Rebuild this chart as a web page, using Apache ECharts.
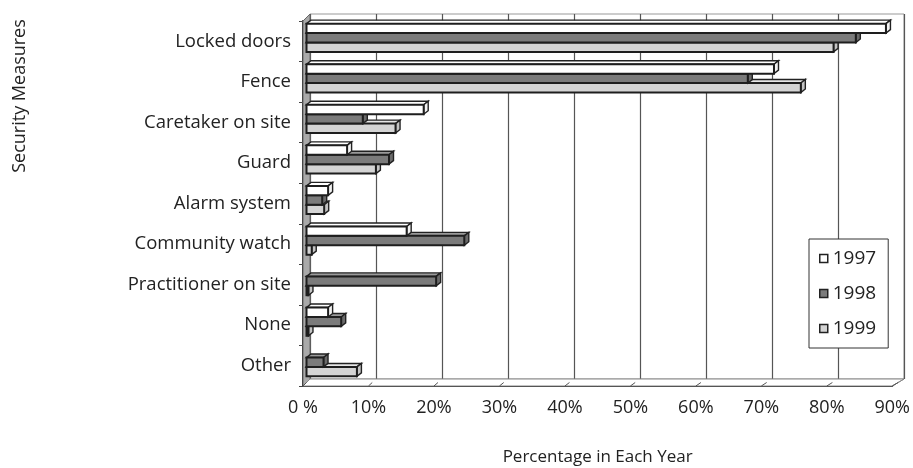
<!DOCTYPE html>
<html>
<head>
<meta charset="utf-8">
<script src="https://cdn.jsdelivr.net/npm/echarts@6/dist/echarts.min.js"></script>
<style>
html,body{margin:0;padding:0;background:#fff;}
#chart{width:913px;height:468px;}
</style>
</head>
<body>
<div id="chart"></div>
<script>
const categories = ['Locked doors', 'Fence', 'Caretaker on site', 'Guard', 'Alarm system', 'Community watch', 'Practitioner on site', 'None', 'Other'];
const years = ['1997', '1998', '1999'];
const v1997 = [88.5, 71.4, 17.9, 6.2, 3.3, 15.3, 0, 3.3, 0];
const v1998 = [83.9, 67.4, 8.6, 12.6, 2.4, 24.1, 19.8, 5.3, 2.6];
const v1999 = [80.5, 75.5, 13.6, 10.6, 2.7, 0.8, 0.3, 0.3, 7.7];
const xTicks = [0, 10, 20, 30, 40, 50, 60, 70, 80, 90];

const FONT = 'Open Sans';
const seriesValues = [v1997, v1998, v1999];
const colors = ['#ffffff', '#7b7b7b', '#d4d4d4'];
const topColors = ['#ffffff', '#9a9a9a', '#e6e6e6'];
const sideColors = ['#f2f2f2', '#6a6a6a', '#c4c4c4'];

function makeRender(sIdx) {
  return function (params, api) {
    const val = api.value(0);
    const cat = api.value(1);
    if (!(val > 0)) return null;
    const p0 = api.coord([0, cat]);
    const p1 = api.coord([val, cat]);
    const band = api.size([0, 1])[1];
    const h = band * 0.232;
    const ox = 3.5, oy = -3.5;
    const dx = 4.5, dy = -3.5;
    const x0 = p0[0] + ox, x1 = p1[0] + ox;
    const y = p0[1] - 1.5 * h + sIdx * h + oy;
    return {
      type: 'group',
      children: [
        { type: 'polygon', shape: { points: [[x0, y], [x0 + dx, y + dy], [x1 + dx, y + dy], [x1, y]] },
          style: { fill: topColors[sIdx], stroke: '#222', lineWidth: 1.4 } },
        { type: 'polygon', shape: { points: [[x1, y], [x1 + dx, y + dy], [x1 + dx, y + h + dy], [x1, y + h]] },
          style: { fill: sideColors[sIdx], stroke: '#222', lineWidth: 1.4 } },
        { type: 'rect', shape: { x: x0, y: y, width: x1 - x0, height: h },
          style: { fill: colors[sIdx], stroke: '#1e1e1e', lineWidth: 2 } }
      ]
    };
  };
}

const chart = echarts.init(document.getElementById('chart'), null, { renderer: 'canvas' });

const option = {
  animation: false,
  backgroundColor: '#fff',
  textStyle: { fontFamily: FONT, color: '#222' },
  grid: [
    { left: 303, right: 16, top: 21, bottom: 82 },
    { left: 310, right: 9, top: 14, bottom: 89, show: true, borderColor: '#999', borderWidth: 1, backgroundColor: '#fff', z: 0 }
  ],
  xAxis: [
    { type: 'value', gridIndex: 0, min: 0, max: 90, interval: 10,
      axisLabel: { fontSize: 18, color: '#222', margin: 13, fontFamily: FONT,
        formatter: function (v) { return v === 0 ? '0 %' : v + '%'; } },
      axisLine: { show: true, lineStyle: { color: '#222', width: 2 } },
      axisTick: { show: false }, splitLine: { show: false } },
    { type: 'value', gridIndex: 1, min: 0, max: 90, interval: 10,
      axisLabel: { show: false }, axisLine: { show: false }, axisTick: { show: false },
      splitLine: { show: true, lineStyle: { color: '#555', width: 1.2 } } }
  ],
  yAxis: [
    { type: 'category', gridIndex: 0, inverse: true, data: categories,
      axisLabel: { fontSize: 18.5, color: '#222', margin: 12, fontFamily: FONT },
      axisLine: { show: true, lineStyle: { color: '#222', width: 2 } },
      axisTick: { show: true, length: 4, lineStyle: { color: '#444' } } },
    { type: 'category', gridIndex: 1, inverse: true, data: categories, show: false }
  ],
  legend: {
    data: years, orient: 'vertical', left: 809, top: 239,
    backgroundColor: '#fff', borderColor: '#333', borderWidth: 1,
    padding: [10, 12, 10, 10], itemGap: 16, itemWidth: 8, itemHeight: 8,
    icon: 'rect',
    itemStyle: { borderColor: '#222', borderWidth: 1.5 },
    textStyle: { fontSize: 19, color: '#222', fontFamily: FONT }
  },
  series: years.map(function (y, i) {
    return {
      type: 'custom', name: y, xAxisIndex: 0, yAxisIndex: 0,
      z: 10 - i,
      itemStyle: { color: colors[i], borderColor: '#222', borderWidth: 1.5 },
      renderItem: makeRender(i),
      encode: { x: 0, y: 1 },
      data: seriesValues[i].map(function (v, k) { return [v, k]; })
    };
  })
};
chart.setOption(option);

// 3D walls derived from the axes' pixel positions
const fl = chart.convertToPixel({ xAxisIndex: 0 }, 0);
const fr = chart.convertToPixel({ xAxisIndex: 0 }, 90);
const bl = chart.convertToPixel({ xAxisIndex: 1 }, 0);
const br = chart.convertToPixel({ xAxisIndex: 1 }, 90);
const fBot = 468 - 82, bTop = 14, bBot = 468 - 89, fTop = 21;
const floorTicks = xTicks.map(function (t) {
  const xf = chart.convertToPixel({ xAxisIndex: 0 }, t);
  const xb = chart.convertToPixel({ xAxisIndex: 1 }, t);
  return { type: 'line', z: 1, shape: { x1: xf, y1: fBot, x2: xf + (xb - xf) * 0.5, y2: fBot - (fBot - bBot) * 0.5 },
    style: { stroke: '#555', lineWidth: 1 } };
});
chart.setOption({
  graphic: [
    { type: 'polygon', z: 1, shape: { points: [[fl, fTop], [bl, bTop], [bl, bBot], [fl, fBot]] },
      style: { fill: '#a9a9a9', stroke: '#666', lineWidth: 1 } },
    { type: 'polygon', z: 1, shape: { points: [[fl, fBot], [bl, bBot], [br, bBot], [fr, fBot]] },
      style: { fill: '#fff', stroke: '#888', lineWidth: 1 } },
    { type: 'line', z: 1, shape: { x1: fr, y1: fBot, x2: br, y2: bBot }, style: { stroke: '#888', lineWidth: 1 } }
  ].concat(floorTicks).concat([
    { type: 'text', x: 20, y: 96, rotation: Math.PI / 2,
      style: { text: 'Security Measures', x: 0, y: 0, textAlign: 'center', textVerticalAlign: 'middle',
        font: '18px "' + FONT + '"', fill: '#222' } },
    { type: 'text', z: 5, style: { text: 'Percentage in Each Year', x: (fl + fr) / 2, y: 457,
      textAlign: 'center', textVerticalAlign: 'middle', font: '17px "' + FONT + '"', fill: '#222' } }
  ])
});
</script>
</body>
</html>
